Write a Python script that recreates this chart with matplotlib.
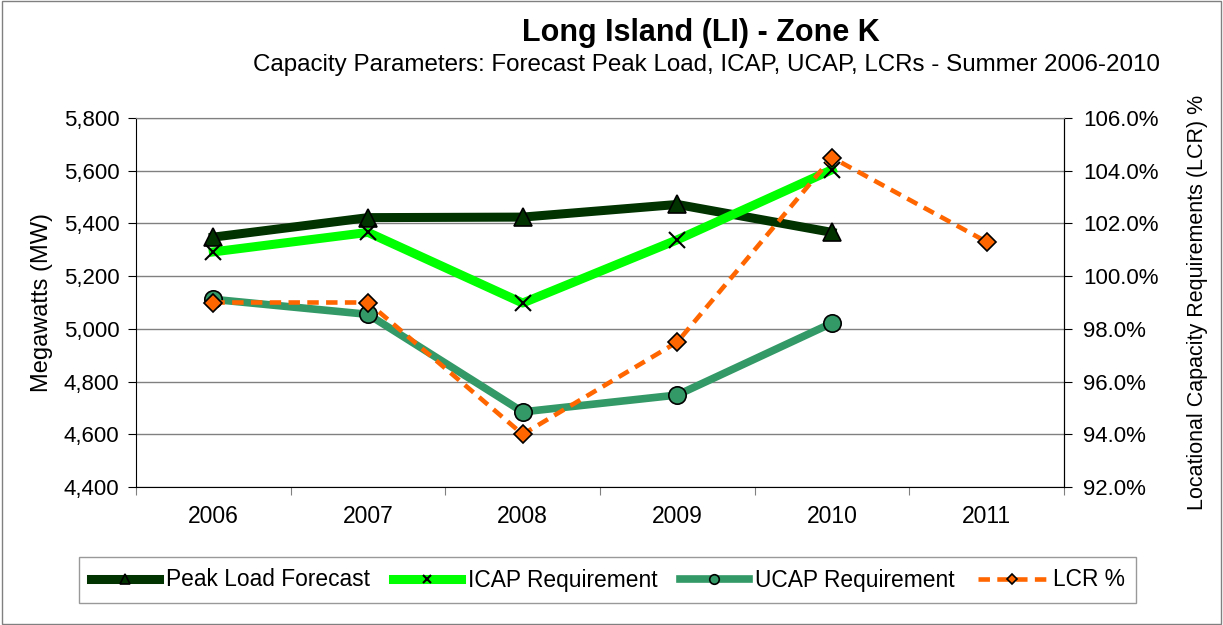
import matplotlib.pyplot as plt
from matplotlib.patches import Rectangle
from matplotlib.ticker import FuncFormatter, FixedLocator

years = ["2006", "2007", "2008", "2009", "2010", "2011"]
peak_load = [5348, 5422, 5424, 5472, 5366]
icap_req = [5292, 5366, 5098, 5338, 5604]
ucap_req = [5112, 5055, 4685, 4749, 5022]
lcr_pct = [99.0, 99.0, 94.0, 97.5, 104.5, 101.3]

plt.rcParams["font.family"] = ["Liberation Sans", "DejaVu Sans"]

fig = plt.figure(figsize=(12.23, 6.25), dpi=100)
ax = fig.add_axes([0.1112, 0.2208, 0.7588, 0.5904])
ax2 = ax.twinx()

x_all = list(range(len(years)))

ax.plot(x_all[:len(peak_load)], peak_load, color="#003300", lw=6.5, marker="^",
        ms=13, mfc="#003300", mec="black", mew=1.2, label="Peak Load Forecast", zorder=3)
ax.plot(x_all[:len(icap_req)], icap_req, color="#00FF00", lw=6.5, marker="x",
        ms=11, mec="black", mew=1.5, label="ICAP Requirement", zorder=4)
ax.plot(x_all[:len(ucap_req)], ucap_req, color="#339966", lw=5.5, marker="o",
        ms=12.5, mfc="#339966", mec="black", mew=1.2, label="UCAP Requirement", zorder=5)
ax2.plot(x_all[:len(lcr_pct)], lcr_pct, color="#FF6600", lw=3.3, ls=(0, (2.5, 1.6)),
         marker="D", ms=9.5, mfc="#FF6600", mec="black", mew=1.2, label="LCR %", zorder=6)

ax.set_xlim(-0.5, 5.5)
ax.set_ylim(4400, 5800)
ax.set_yticks(range(4400, 5801, 200))
ax.yaxis.set_major_formatter(FuncFormatter(lambda v, p: f"{int(v):,}"))
ax2.set_ylim(92, 106)
ax2.set_yticks(range(92, 107, 2))
ax2.yaxis.set_major_formatter(FuncFormatter(lambda v, p: f"{v:.1f}%"))

# category axis: ticks on boundaries, labels at centers
ax.xaxis.set_major_locator(FixedLocator([i - 0.5 for i in range(len(years) + 1)]))
ax.set_xticklabels([])
ax.xaxis.set_minor_locator(FixedLocator(x_all))
ax.set_xticklabels(years, minor=True)
ax.tick_params(axis="x", which="major", length=6, direction="out", color="#808080")
ax.tick_params(axis="x", which="minor", length=0, labelsize=16.5, pad=13)
ax.tick_params(axis="y", length=6, direction="out", labelsize=16, pad=6)
ax2.tick_params(axis="y", length=6, direction="out", labelsize=16, pad=8)

ax.grid(axis="y", color="#808080", lw=1)
ax.set_axisbelow(True)
ax.spines["top"].set_color("#808080")
ax2.spines["top"].set_color("#808080")
for s in ["left", "bottom"]:
    ax.spines[s].set_color("black")
ax2.spines["right"].set_color("black")
ax2.spines["left"].set_visible(False)
ax2.spines["bottom"].set_visible(False)

ax.set_ylabel("Megawatts (MW)", fontsize=17, labelpad=8)
ax2.set_ylabel("Locational Capacity Requirements (LCR) %", fontsize=15.5, labelpad=20)

fig.text(0.573, 0.948, "Long Island (LI) - Zone K", ha="center", va="center",
         fontsize=22, fontweight="bold")
fig.text(0.578, 0.896, "Capacity Parameters: Forecast Peak Load, ICAP, UCAP, LCRs - Summer 2006-2010",
         ha="center", va="center", fontsize=17.4)

h1, l1 = ax.get_legend_handles_labels()
h2, l2 = ax2.get_legend_handles_labels()
leg = fig.legend(h1 + h2, l1 + l2, loc="center", bbox_to_anchor=(0.497, 0.072),
                 ncol=4, fontsize=16.4, frameon=True, fancybox=False, markerscale=0.55,
                 handlelength=3.0, handletextpad=0.3, columnspacing=1.0, borderpad=0.5)
leg.get_frame().set_edgecolor("#808080")
leg.get_frame().set_linewidth(1)

fig.patches.append(Rectangle((0.002, 0.002), 0.996, 0.996, transform=fig.transFigure,
                             fill=False, ec="#808080", lw=1))

fig.savefig("out.png", dpi=100)
